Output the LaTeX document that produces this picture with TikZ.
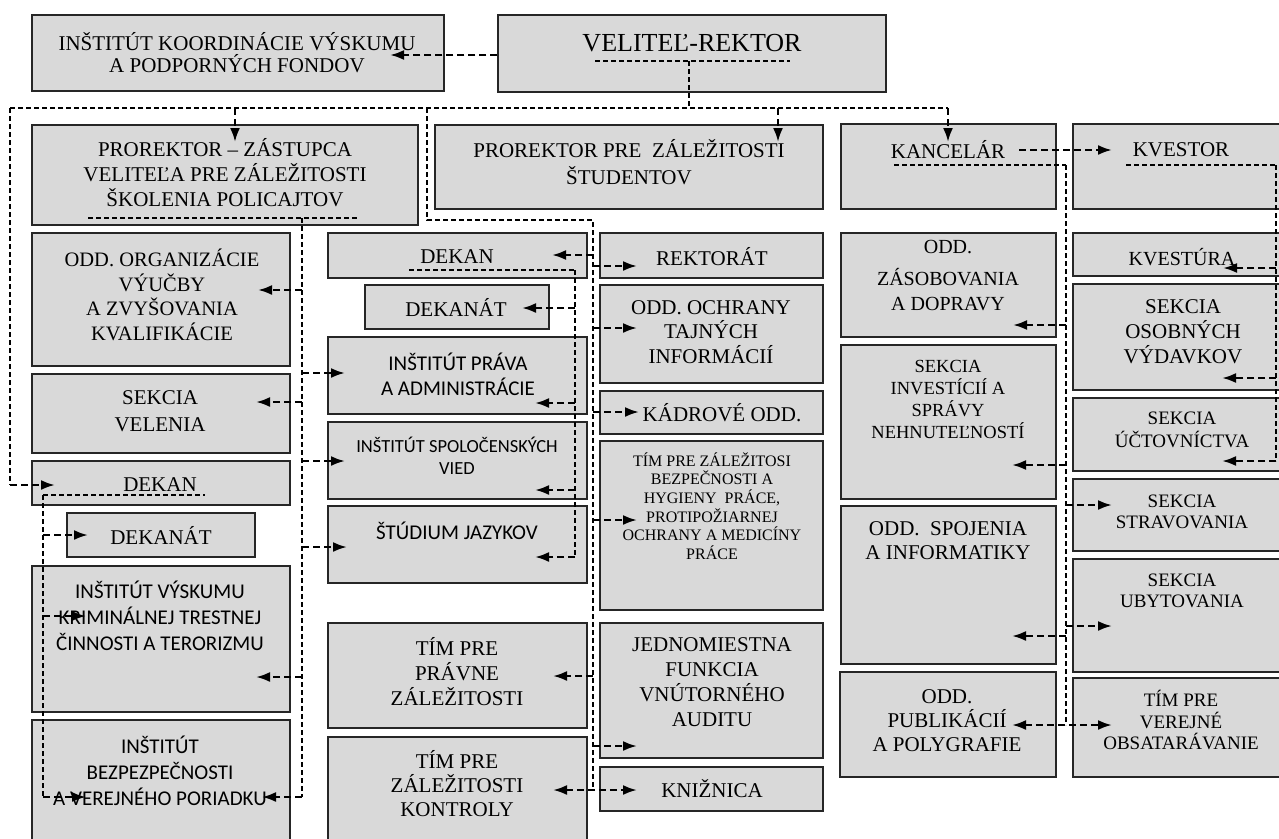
\documentclass[tikz,border=0pt]{standalone}
\usepackage{fontspec}
\setmainfont{Liberation Serif}
\newfontfamily\calfont{Carlito}
\usetikzlibrary{arrows.meta,fit}
\newcommand\fs[2]{\fontsize{#1}{#2}\selectfont}
\begin{document}
\begin{tikzpicture}[x=1pt,y=-1pt,
  box/.style={draw=black!85, line width=1.3pt, fill=gray!30, inner sep=0pt},
  txt/.style={align=center, inner sep=0pt, font=\fs{21}{25}},
  bus/.style={line width=1.5pt, dash pattern=on 5pt off 3pt},
  arr/.style={line width=2.4pt, dash pattern=on 7pt off 4pt, -{Latex[length=14pt,width=10pt]}},
  darr/.style={line width=2.4pt, dash pattern=on 7pt off 4pt, {Latex[length=14pt,width=10pt]}-{Latex[length=14pt,width=10pt]}}]
\useasboundingbox (0,0) rectangle (1279,838);
\clip (0,0) rectangle (1279,838);
\fill[white] (0,0) rectangle (1279,838);
% ---------- boxes
\node[box, fit={(32,15) (444,91)}] (ik) {};
\node[box, fit={(498,15) (886,92)}] (vr) {};
\node[box, fit={(32,125) (418,225)}] (p1) {};
\node[box, fit={(435,125) (823,209)}] (p2) {};
\node[box, fit={(841,124) (1056,209)}] (kan) {};
\node[box, fit={(1073,124) (1290,209)}] (kve) {};
\node[box, fit={(32,233) (290,366)}] (org) {};
\node[box, fit={(32,374) (290,453)}] (vel) {};
\node[box, fit={(32,461) (290,505)}] (dek1) {};
\node[box, fit={(67,513) (255,557)}] (dkt1) {};
\node[box, fit={(32,566) (290,712)}] (vys) {};
\node[box, fit={(32,720) (290,850)}] (bez) {};
\node[box, fit={(328,233) (587,278)}] (dek2) {};
\node[box, fit={(365,285) (549,329)}] (dkt2) {};
\node[box, fit={(328,337) (587,414)}] (pra) {};
\node[box, fit={(328,422) (587,499)}] (spo) {};
\node[box, fit={(328,506) (587,583)}] (stu) {};
\node[box, fit={(328,623) (587,728)}] (tpr) {};
\node[box, fit={(328,737) (587,850)}] (kon) {};
\node[box, fit={(600,233) (823,278)}] (rek) {};
\node[box, fit={(600,285) (823,383)}] (och) {};
\node[box, fit={(600,391) (823,434)}] (kad) {};
\node[box, fit={(600,441) (823,610)}] (tbz) {};
\node[box, fit={(600,623) (823,758)}] (jed) {};
\node[box, fit={(600,767) (823,811)}] (kni) {};
\node[box, fit={(841,233) (1056,337)}] (zas) {};
\node[box, fit={(841,345) (1056,499)}] (inv) {};
\node[box, fit={(841,506) (1056,664)}] (spj) {};
\node[box, fit={(840,672) (1056,777)}] (pub) {};
\node[box, fit={(1073,233) (1290,276)}] (kvs) {};
\node[box, fit={(1073,284) (1290,390)}] (oso) {};
\node[box, fit={(1073,398) (1290,471)}] (uct) {};
\node[box, fit={(1073,479) (1290,551)}] (str) {};
\node[box, fit={(1073,559) (1290,672)}] (uby) {};
\node[box, fit={(1073,678) (1290,777)}] (ver) {};
% ---------- texts
\node[txt, font=\fs{21}{22}] (ik-t) at (237,53) {INŠTITÚT KOORDINÁCIE VÝSKUMU\\A PODPORNÝCH FONDOV};
\node[txt, font=\fs{26}{30}] (vr-t) at (692,43) {VELITEĽ-REKTOR};
\node[txt] (p1-t) at (225,173) {PROREKTOR – ZÁSTUPCA\\VELITEĽA PRE ZÁLEŽITOSTI\\ŠKOLENIA POLICAJTOV};
\node[txt, font=\fs{21}{27}] (p2-t) at (629,162) {PROREKTOR PRE\ \ ZÁLEŽITOSTI\\ŠTUDENTOV};
\node[txt] (kan-t) at (948,150) {KANCELÁR};
\node[txt] (kve-t) at (1181,150) {KVESTOR};
\node[txt, font=\fs{20.5}{24.5}] (org-t) at (162,295) {ODD. ORGANIZÁCIE\\VÝUČBY\\A ZVYŠOVANIA\\KVALIFIKÁCIE};
\node[txt, font=\fs{21}{27}] (vel-t) at (160,411) {SEKCIA\\VELENIA};
\node[txt] (dek1-t) at (160,485) {DEKAN};
\node[txt] (dkt1-t) at (161,535) {DEKANÁT};
\node[txt, font=\calfont\fs{21}{26}] (vys-t) at (160,616) {INŠTITÚT VÝSKUMU\\KRIMINÁLNEJ TRESTNEJ\\ČINNOSTI A TERORIZMU};
\node[txt, font=\calfont\fs{21}{26}] (bez-t) at (160,771) {INŠTITÚT\\BEZPEZPEČNOSTI\\A VEREJNÉHO PORIADKU};
\node[txt] (dek2-t) at (457,257) {DEKAN};
\node[txt] (dkt2-t) at (456,308) {DEKANÁT};
\node[txt, font=\calfont\fs{21}{25}] (pra-t) at (458,374) {INŠTITÚT PRÁVA\\A ADMINISTRÁCIE};
\node[txt, font=\calfont\fs{18.5}{22}] (spo-t) at (457,456) {INŠTITÚT SPOLOČENSKÝCH\\VIED};
\node[txt, font=\calfont\fs{21}{25}] (stu-t) at (457,531) {ŠTÚDIUM JAZYKOV};
\node[txt] (tpr-t) at (457,672) {TÍM PRE\\PRÁVNE\\ZÁLEŽITOSTI};
\node[txt, font=\fs{21}{24}] (kon-t) at (457,784) {TÍM PRE\\ZÁLEŽITOSTI\\KONTROLY};
\node[txt] (rek-t) at (712,257) {REKTORÁT};
\node[txt, font=\fs{21}{24.5}] (och-t) at (711,332) {ODD. OCHRANY\\TAJNÝCH\\INFORMÁCIÍ};
\node[txt] (kad-t) at (722,413) {KÁDROVÉ ODD.};
\node[txt, font=\fs{16}{18.6}] (tbz-t) at (712,506) {TÍM PRE ZÁLEŽITOSI\\BEZPEČNOSTI A\\HYGIENY\ \ PRÁCE,\\PROTIPOŽIARNEJ\\OCHRANY A MEDICÍNY\\PRÁCE};
\node[txt] (jed-t) at (712,682) {JEDNOMIESTNA\\FUNKCIA\\VNÚTORNÉHO\\AUDITU};
\node[txt] (kni-t) at (712,789) {KNIŽNICA};
\node[txt, font=\fs{20}{25}] (zas-t) at (948,276) {ODD.\\[7pt]ZÁSOBOVANIA\\A DOPRAVY};
\node[txt, font=\fs{20}{25}] (kvs-t) at (1182,257) {KVESTÚRA};
\node[txt, font=\fs{21}{25}] (oso-t) at (1183,332) {SEKCIA\\OSOBNÝCH\\VÝDAVKOV};
\node[txt, font=\fs{18.5}{22}] (inv-t) at (948,399) {SEKCIA\\INVESTÍCIÍ A\\SPRÁVY\\NEHNUTEĽNOSTÍ};
\node[txt, font=\fs{19}{23}] (uct-t) at (1182,430) {SEKCIA\\ÚČTOVNÍCTVA};
\node[txt, font=\fs{19}{21}] (str-t) at (1182,512) {SEKCIA\\STRAVOVANIA};
\node[txt, font=\fs{19}{21}] (uby-t) at (1182,591) {SEKCIA\\UBYTOVANIA};
\node[txt, font=\fs{21}{24}] (spj-t) at (948,541) {ODD.\ \ SPOJENIA\\A INFORMATIKY};
\node[txt, font=\fs{21}{24}] (pub-t) at (947,721) {ODD.\\PUBLIKÁCIÍ\\A POLYGRAFIE};
\node[txt, font=\fs{19}{21.5}] (ver-t) at (1181,720) {TÍM PRE\\VEREJNÉ\\OBSATARÁVANIE};
% ---------- bus coordinates
\coordinate (vrU) at (689,61);
\coordinate (busY) at (0,108);
\coordinate (pL) at (302,218);
\coordinate (dL) at (43,495);
\coordinate (dM) at (575,270);
\coordinate (kL) at (1066,165);
\coordinate (qL) at (1276,165);
% ---------- top level
\draw[arr] (vr.west |- 0,55) -- (390,55);
\draw[bus] (595,61) -- (790,61);
\draw[bus] (vrU) -- (vrU |- busY);
\draw[bus] (10,108) -- (948,108);
\draw[arr] (235,108) -- (235,142);
\draw[arr] (778,108) -- (778,142);
\draw[arr] (948,108) -- (948,142);
\draw[bus] (10,108) -- (10,485);
\draw[arr] (10,485) -- (55,485);
\draw[bus] (427,108) -- (427,220) -- (593,220) -- (593,790);
% middle bus arrows
\draw[arr] (593,255) -- (552,255);
\draw[arr] (593,266) -- (637,266);
\draw[arr] (593,328) -- (637,328);
\draw[arr] (593,412) -- (639,412);
\draw[arr] (593,520) -- (637,520);
\draw[arr] (593,676) -- (553,676);
\draw[arr] (593,746) -- (637,746);
\draw[darr] (553,790) -- (637,790);
% prorektor bus
\draw[bus] (88,218) -- (358,218);
\draw[bus] (pL) -- (302,797);
\draw[arr] (302,290) -- (258,290);
\draw[arr] (302,373) -- (345,373);
\draw[arr] (302,402) -- (256,402);
\draw[arr] (302,461) -- (345,461);
\draw[arr] (302,547) -- (347,547);
\draw[arr] (302,677) -- (256,677);
\draw[arr] (302,797) -- (262,797);
% left dekan bus
\draw[bus] (dL) -- (205,495);
\draw[bus] (dL) -- (43,797);
\draw[arr] (43,535) -- (88,535);
\draw[arr] (43,616) -- (86,616);
\draw[arr] (43,797) -- (86,797);
% middle dekan bus
\draw[bus] (409,270) -- (dM);
\draw[bus] (dM) -- (575,557);
\draw[arr] (575,308) -- (522,308);
\draw[arr] (575,403) -- (535,403);
\draw[arr] (575,490) -- (535,490);
\draw[arr] (575,557) -- (535,557);
% kancelar
\draw[arr] (1019,150) -- (1112,150);
\draw[bus] (894,165) -- (kL);
\draw[bus] (kL) -- (1066,725);
\draw[arr] (1066,325) -- (1013,325);
\draw[arr] (1066,465) -- (1012,465);
\draw[arr] (1066,505) -- (1112,505);
\draw[arr] (1066,626) -- (1112,626);
\draw[arr] (1066,636) -- (1012,636);
\draw[darr] (1012,725) -- (1112,725);
% kvestor
\draw[bus] (1126,165) -- (qL);
\draw[bus] (qL) -- (1276,461);
\draw[arr] (1276,268) -- (1223,268);
\draw[arr] (1276,378) -- (1222,378);
\draw[arr] (1276,461) -- (1222,461);
\end{tikzpicture}
\end{document}
